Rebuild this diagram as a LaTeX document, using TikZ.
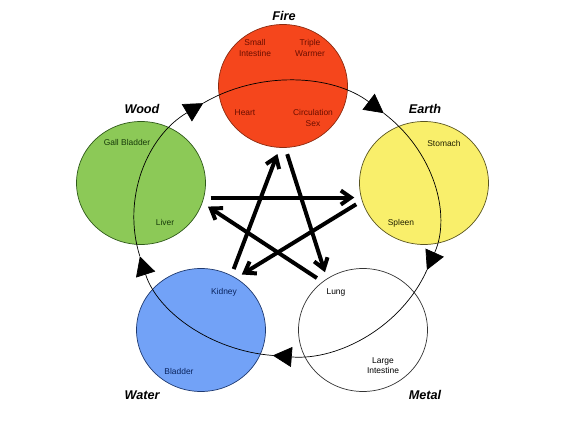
\documentclass[tikz,border=0pt]{standalone}
\usepackage{fontspec}
\setmainfont{Liberation Sans}
\usetikzlibrary{arrows.meta,shapes.geometric}

\definecolor{firefill}{HTML}{F5461C}
\definecolor{firedraw}{HTML}{8B2A10}
\definecolor{firetext}{HTML}{6A0E00}
\definecolor{woodfill}{HTML}{8CC957}
\definecolor{wooddraw}{HTML}{2F5A1A}
\definecolor{woodtext}{HTML}{173A0A}
\definecolor{earthfill}{HTML}{F9EF6B}
\definecolor{earthdraw}{HTML}{5A5520}
\definecolor{earthtext}{HTML}{202000}
\definecolor{waterfill}{HTML}{72A2F7}
\definecolor{waterdraw}{HTML}{1F3A70}
\definecolor{watertext}{HTML}{0A245E}
\definecolor{metaldraw}{HTML}{333333}

\begin{document}
\begin{tikzpicture}[
    element/.style={ellipse, draw, line width=0.6pt, minimum width=3.87cm, minimum height=3.69cm, inner sep=0pt},
    title/.style={font=\fontsize{10.8}{13}\selectfont\bfseries\itshape},
    organ/.style={font=\fontsize{7.2}{8.6}\selectfont, align=center, inner sep=0pt},
    cycle/.style={line width=0.6pt, -{Triangle[length=0.57cm, width=0.6cm]}},
    control/.style={line width=3.4pt, -{Straight Barb[length=0.3cm, width=0.42cm]}, shorten <=0.2cm, shorten >=0.2cm}
]
    \useasboundingbox (0,0) rectangle (17.19,12.72);

    % The five elements
    \node[element, draw=firedraw, fill=firefill] (fire) at (8.49,10.14) {};
    \node[element, draw=wooddraw, fill=woodfill] (wood) at (4.23,7.23) {};
    \node[element, draw=earthdraw, fill=earthfill] (earth) at (12.72,7.23) {};
    \node[element, draw=waterdraw, fill=waterfill] (water) at (6.03,2.82) {};
    \node[element, draw=metaldraw, fill=white] (metal) at (10.89,2.82) {};

    % Generating cycle round the big circle
    \coordinate (hub) at (8.58,6.165);
    \draw[cycle] (hub) ++(196:4.56 and 4.125) arc[start angle=196, end angle=123, x radius=4.56, y radius=4.125];
    \draw[cycle] (hub) ++(123:4.56 and 4.125) arc[start angle=123, end angle=50, x radius=4.56, y radius=4.125];
    \draw[cycle] (hub) ++(50:4.56 and 4.125) arc[start angle=50, end angle=-22, x radius=4.56, y radius=4.125];
    \draw[cycle] (hub) ++(-22:4.56 and 4.125) arc[start angle=-22, end angle=-95, x radius=4.56, y radius=4.125];
    \draw[cycle] (hub) ++(-95:4.56 and 4.125) arc[start angle=-95, end angle=-164, x radius=4.56, y radius=4.125];

    % Titles
    \node[title] (firetitle) at (8.52,12.24) {Fire};
    \node[title] (woodtitle) at (4.26,9.45) {Wood};
    \node[title] (earthtitle) at (12.75,9.45) {Earth};
    \node[title] (watertitle) at (4.26,0.87) {Water};
    \node[title] (metaltitle) at (12.75,0.87) {Metal};

    % Organs
    \node[organ, text=firetext] (smallint) at (7.65,11.28) {Small\\Intestine};
    \node[organ, text=firetext] (triple) at (9.30,11.28) {Triple\\Warmer};
    \node[organ, text=firetext] (heart) at (7.35,9.33) {Heart};
    \node[organ, text=firetext] (circsex) at (9.39,9.18) {Circulation\\Sex};
    \node[organ, text=woodtext] (gall) at (3.81,8.46) {Gall Bladder};
    \node[organ, text=woodtext] (liver) at (4.95,6.06) {Liver};
    \node[organ, text=earthtext] (stomach) at (13.32,8.43) {Stomach};
    \node[organ, text=earthtext] (spleen) at (12.03,6.03) {Spleen};
    \node[organ, text=watertext] (kidney) at (6.72,3.96) {Kidney};
    \node[organ, text=watertext] (bladder) at (5.37,1.59) {Bladder};
    \node[organ] (lung) at (10.08,3.96) {Lung};
    \node[organ] (largeint) at (11.49,1.74) {Large\\Intestine};

    % Controlling cycle (the star)
    \draw[control] (wood.-13) -- (earth.193);
    \draw[control] (earth.196) -- (water.56);
    \draw[control] (water.61) -- (fire.267);
    \draw[control] (fire.272) -- (metal.125);
    \draw[control] (metal.130) -- (wood.-18);
\end{tikzpicture}
\end{document}
